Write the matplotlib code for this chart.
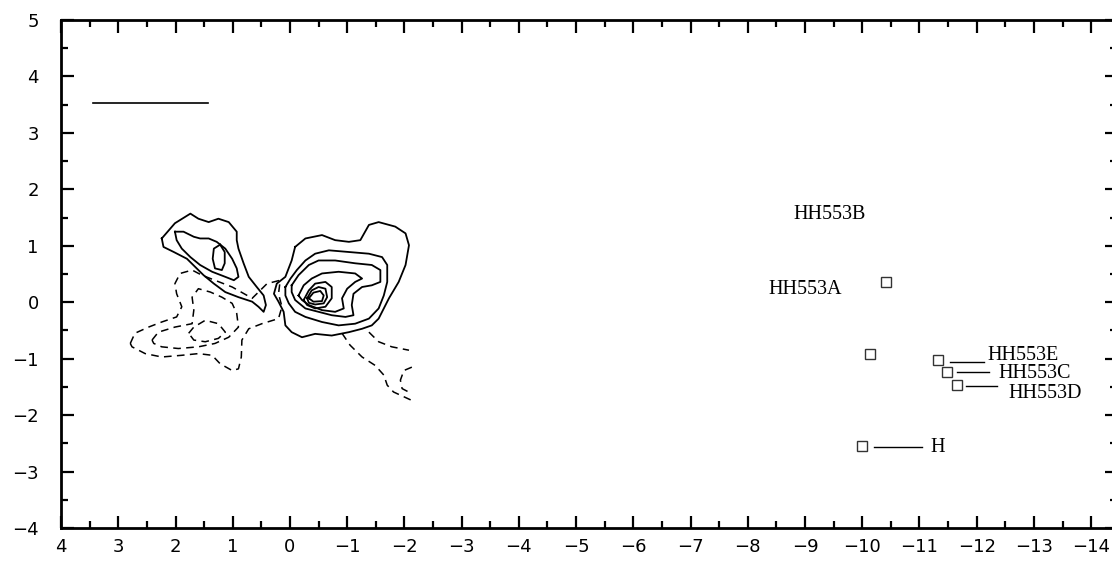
import matplotlib.pyplot as plt
from matplotlib.ticker import MultipleLocator

# offsets in arcsec, x increasing to the left
# solid contours (two lobes)
nw_outer = [(2.24, 1.13), (2.01, 1.40), (1.74, 1.57), (1.60, 1.48), (1.42, 1.42), (1.25, 1.48),
            (1.07, 1.42), (0.93, 1.25), (0.93, 1.10), (0.90, 0.95), (0.81, 0.69), (0.72, 0.45),
            (0.58, 0.27), (0.46, 0.12), (0.42, -0.05), (0.46, -0.17), (0.55, -0.08), (0.66, 0.01),
            (0.90, 0.09), (1.13, 0.18), (1.33, 0.33), (1.51, 0.48), (1.66, 0.63), (1.80, 0.77),
            (2.03, 0.89), (2.21, 0.98)]
nw_mid = [(2.01, 1.25), (1.86, 1.25), (1.68, 1.16), (1.57, 1.13), (1.42, 1.13), (1.28, 1.07),
          (1.13, 0.95), (1.01, 0.77), (0.93, 0.60), (0.90, 0.45), (0.98, 0.39), (1.13, 0.45),
          (1.36, 0.54), (1.57, 0.66), (1.74, 0.80), (1.89, 0.95), (1.98, 1.10)]
nw_inner = [(1.22, 1.02), (1.14, 0.89), (1.14, 0.69), (1.19, 0.57), (1.31, 0.60), (1.35, 0.77),
            (1.33, 0.95)]

se_1 = [(-0.09, 0.98), (-0.27, 1.13), (-0.56, 1.19), (-0.79, 1.10), (-1.03, 1.07), (-1.23, 1.10),
        (-1.38, 1.37), (-1.55, 1.42), (-1.84, 1.34), (-2.02, 1.22), (-2.08, 1.01), (-2.02, 0.66),
        (-1.90, 0.36), (-1.73, 0.07), (-1.55, -0.29), (-1.43, -0.41), (-1.26, -0.47), (-1.03, -0.53),
        (-0.73, -0.59), (-0.44, -0.56), (-0.21, -0.62), (-0.03, -0.53), (0.08, -0.41), (0.11, -0.17),
        (0.20, 0.01), (0.28, 0.15), (0.23, 0.33), (0.08, 0.45), (-0.03, 0.74)]
se_2 = [(0.08, 0.27), (-0.01, 0.42), (-0.12, 0.57), (-0.27, 0.74), (-0.44, 0.86), (-0.68, 0.92),
        (-1.03, 0.89), (-1.38, 0.86), (-1.61, 0.80), (-1.70, 0.66), (-1.70, 0.36), (-1.64, 0.12),
        (-1.55, -0.11), (-1.38, -0.29), (-1.14, -0.38), (-0.85, -0.41), (-0.56, -0.35), (-0.27, -0.26),
        (-0.09, -0.17), (0.02, -0.02), (0.08, 0.12)]
se_3 = [(-0.03, 0.30), (-0.15, 0.48), (-0.33, 0.66), (-0.50, 0.74), (-0.79, 0.74), (-1.14, 0.69),
        (-1.43, 0.66), (-1.58, 0.57), (-1.58, 0.36), (-1.43, 0.30), (-1.26, 0.27), (-1.11, 0.15),
        (-1.08, -0.05), (-1.11, -0.23), (-0.97, -0.26), (-0.73, -0.23), (-0.50, -0.17), (-0.27, -0.11),
        (-0.09, 0.04), (-0.03, 0.18)]
se_4 = [(-0.15, 0.12), (-0.24, 0.30), (-0.38, 0.42), (-0.56, 0.51), (-0.85, 0.54), (-1.14, 0.51),
        (-1.26, 0.42), (-1.14, 0.36), (-1.00, 0.24), (-0.91, 0.07), (-0.94, -0.11), (-0.79, -0.17),
        (-0.56, -0.14), (-0.33, -0.05), (-0.21, 0.04)]
se_5 = [(-0.24, 0.04), (-0.33, 0.21), (-0.44, 0.33), (-0.62, 0.36), (-0.73, 0.27), (-0.73, 0.07),
        (-0.62, -0.08), (-0.44, -0.11), (-0.30, -0.05)]
se_6 = [(-0.30, 0.07), (-0.38, 0.21), (-0.50, 0.27), (-0.62, 0.24), (-0.65, 0.09), (-0.59, -0.02),
        (-0.44, -0.04), (-0.33, -0.01)]
se_7 = [(-0.33, 0.07), (-0.41, 0.17), (-0.53, 0.20), (-0.59, 0.12), (-0.56, 0.02), (-0.41, 0.01)]

# dashed contours
d_outer = [(2.79, -0.73), (2.71, -0.55), (2.47, -0.44), (2.24, -0.35), (1.98, -0.26), (1.89, -0.08),
           (1.98, 0.15), (2.01, 0.33), (1.92, 0.51), (1.71, 0.57), (1.54, 0.48), (1.01, 0.27),
           (0.66, 0.07), (0.40, 0.33), (0.17, 0.39), (0.20, 0.15), (0.14, -0.08), (0.20, -0.29),
           (0.49, -0.38), (0.72, -0.47), (0.84, -0.67), (0.85, -0.97), (0.90, -1.18), (1.01, -1.21),
           (1.22, -1.09), (1.36, -0.94), (1.60, -0.91), (1.89, -0.94), (2.24, -0.97), (2.53, -0.91),
           (2.76, -0.79)]
d_mid = [(2.41, -0.67), (2.30, -0.53), (2.01, -0.44), (1.71, -0.38), (1.68, -0.14), (1.71, 0.09),
         (1.60, 0.24), (1.39, 0.18), (1.19, 0.09), (1.01, -0.02), (0.93, -0.20), (0.90, -0.44),
         (1.07, -0.62), (1.31, -0.73), (1.60, -0.79), (1.95, -0.82), (2.24, -0.79), (2.38, -0.73)]
d_inner = [(1.77, -0.55), (1.68, -0.44), (1.48, -0.32), (1.25, -0.38), (1.13, -0.53), (1.25, -0.64),
           (1.48, -0.70), (1.68, -0.67)]
d_tail1 = [(-0.91, -0.55), (-1.05, -0.76), (-1.26, -0.97), (-1.49, -1.12), (-1.64, -1.29),
           (-1.70, -1.47), (-1.81, -1.59), (-2.13, -1.74)]
d_tail2 = [(-1.38, -0.53), (-1.55, -0.70), (-1.78, -0.79), (-2.08, -0.85)]
d_tail3 = [(-2.13, -1.15), (-1.99, -1.21), (-1.93, -1.38), (-1.96, -1.53), (-2.13, -1.62)]

# knots
knot_x = [-10.42, -10.14, -11.33, -11.49, -11.65, -9.99]
knot_y = [0.355, -0.92, -1.03, -1.24, -1.47, -2.54]

# labels: name, text x, text y
label_names = ['HH553B', 'HH553A', 'HH553E', 'HH553C', 'HH553D', 'H']
label_x = [-8.80, -8.36, -12.19, -12.38, -12.56, -11.19]
label_y = [1.56, 0.23, -0.94, -1.26, -1.61, -2.57]

# leader lines: x0, x1, y
leader_x0 = [-11.54, -11.65, -11.82, -10.20]
leader_x1 = [-12.12, -12.21, -12.35, -11.05]
leader_y = [-1.06, -1.24, -1.49, -2.57]

# scale bar
bar_x = [3.45, 1.43]
bar_y = [3.53, 3.53]

fig = plt.figure(figsize=(11.12, 5.61), dpi=100)
ax = fig.add_axes([0.0549, 0.0588, 0.95, 0.9055])


def draw(pts, closed=True, **kw):
    if closed:
        pts = pts + pts[:1]
    ax.plot([p[0] for p in pts], [p[1] for p in pts], color='black', **kw)


for c in [nw_outer, nw_mid, nw_inner, se_1, se_2, se_3, se_4, se_5, se_6, se_7]:
    draw(c, lw=1.3)
for c in [d_outer, d_mid, d_inner]:
    draw(c, lw=1.1, ls=(0, (5, 3.5)))
for c in [d_tail1, d_tail2, d_tail3]:
    draw(c, closed=False, lw=1.1, ls=(0, (5, 3.5)))

ax.plot(knot_x, knot_y, 's', ms=6.5, mfc='white', mec='#333333', mew=1.0)
for x0, x1, y in zip(leader_x0, leader_x1, leader_y):
    ax.plot([x0, x1], [y, y], color='black', lw=1.0)
for name, x, y in zip(label_names, label_x, label_y):
    ax.text(x, y, name, ha='left', va='center', fontsize=14.5, family='Liberation Serif')

ax.plot(bar_x, bar_y, color='black', lw=1.2)

ax.set_xlim(4, -14.46)
ax.set_ylim(-4, 5)
ax.xaxis.set_major_locator(MultipleLocator(1))
ax.xaxis.set_minor_locator(MultipleLocator(0.5))
ax.yaxis.set_major_locator(MultipleLocator(1))
ax.yaxis.set_minor_locator(MultipleLocator(0.5))
ax.tick_params(which='both', direction='in', top=True, right=True, width=1.6, labelsize=13)
ax.tick_params(which='major', length=9)
ax.tick_params(which='minor', length=5)
ax.tick_params(axis='y', pad=16)
ax.tick_params(axis='x', pad=7)
for s in ax.spines.values():
    s.set_linewidth(2)

fig.savefig('out.png', dpi=100)
